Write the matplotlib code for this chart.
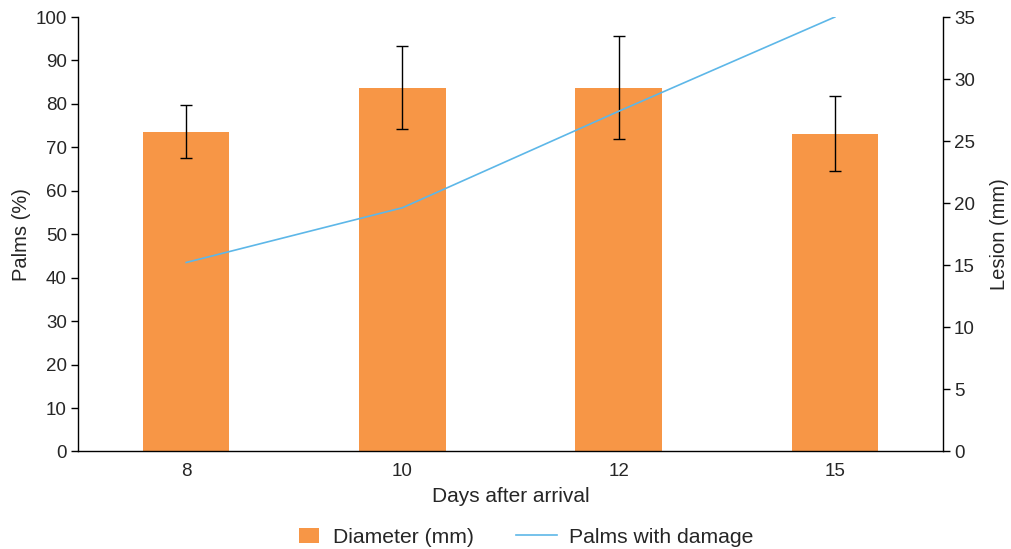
import matplotlib.pyplot as plt
from matplotlib.patches import Patch, Rectangle
from matplotlib.lines import Line2D
from matplotlib.legend_handler import HandlerPatch

plt.rcParams['font.family'] = ['Liberation Sans', 'DejaVu Sans']

# data
days = ['8', '10', '12', '15']
diameter_mm = [25.75, 29.3, 29.3, 25.6]
diameter_err = [2.13, 3.35, 4.15, 3.03]
palms_damage = [43.5, 56.1, 78.3, 100.0]

bar_color = '#F79646'
line_color = '#5DB7E8'
text_color = '#262626'


class SmallBox(HandlerPatch):
    # small box sitting at the right end of the handle slot
    def create_artists(self, legend, orig_handle, xdescent, ydescent,
                       width, height, fontsize, trans):
        w, h = 14.4, 10.5
        x0 = -xdescent + width - w - 1.5
        y0 = -ydescent + (height - h) / 2
        r = Rectangle((x0, y0), w, h, facecolor=orig_handle.get_facecolor(),
                      edgecolor='none', transform=trans)
        return [r]


fig = plt.figure(figsize=(10.11, 5.49), dpi=100)
ax = fig.add_axes([0.0772, 0.1776, 0.8555, 0.7914])
ax2 = ax.twinx()

x = list(range(len(days)))

# bars on the right axis (mm), line on the left axis (%)
ax2.bar(x, diameter_mm, width=0.4, color=bar_color, zorder=2)
ax2.errorbar(x, diameter_mm, yerr=diameter_err, fmt='none', ecolor='black',
             elinewidth=1, capsize=4.5, capthick=1, zorder=3)
ax.plot(x, palms_damage, color=line_color, linewidth=1.2, zorder=4)

# keep the line above the bars
ax.set_zorder(ax2.get_zorder() + 1)
ax.patch.set_visible(False)

ax.set_xlim(-0.5, len(days) - 0.5)
ax.set_ylim(0, 100)
ax2.set_ylim(0, 35)
ax.set_yticks(range(0, 101, 10))
ax2.set_yticks(range(0, 36, 5))
ax.set_xticks(x)
ax.set_xticklabels(days)

for a in (ax, ax2):
    a.spines['top'].set_visible(False)
    for s in a.spines.values():
        s.set_linewidth(1)
        s.set_color('black')
ax.spines['right'].set_visible(False)
ax2.spines['left'].set_visible(False)
ax2.spines['bottom'].set_visible(False)

ax.tick_params(axis='x', length=0, labelsize=13.5, labelcolor=text_color, pad=8)
ax.tick_params(axis='y', length=5, width=1, labelsize=13.5, labelcolor=text_color, pad=3)
ax2.tick_params(axis='y', length=5, width=1, labelsize=13.5, labelcolor=text_color, pad=3)

ax.set_ylabel('Palms (%)', fontsize=14.5, color=text_color, labelpad=3)
ax2.set_ylabel('Lesion (mm)', fontsize=14.5, color=text_color, labelpad=11)
ax.set_xlabel('Days after arrival', fontsize=15, color=text_color, labelpad=5)

handles = [Patch(facecolor=bar_color, edgecolor='none'),
           Line2D([0], [0], color=line_color, linewidth=1.2)]
labels = ['Diameter (mm)', 'Palms with damage']
leg = fig.legend(handles, labels, loc='center', bbox_to_anchor=(0.511, 0.022),
                 ncol=2, frameon=False, fontsize=15.2, handlelength=1.95,
                 handleheight=0.8, columnspacing=1.98, handletextpad=0.56,
                 handler_map={Patch: SmallBox()})
for t in leg.get_texts():
    t.set_color(text_color)

fig.savefig('out.png', dpi=100)
